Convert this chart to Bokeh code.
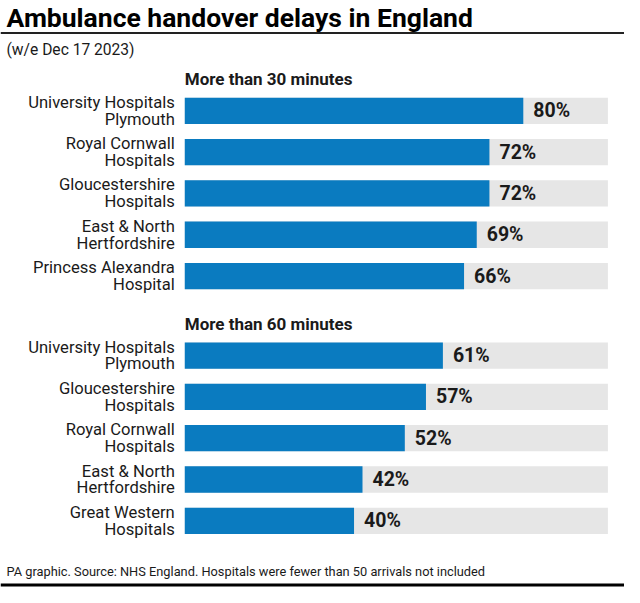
from bokeh.plotting import figure
from bokeh.models import Range1d, ColumnDataSource, Span, Label
from bokeh.core.properties import value
from bokeh.embed import file_html
from bokeh.resources import INLINE

# ---- data ----
title_text = "Ambulance handover delays in England"
subtitle_text = "(w/e Dec 17 2023)"
footer_text = "PA graphic. Source: NHS England. Hospitals were fewer than 50 arrivals not included"

group_titles = ["More than 30 minutes", "More than 60 minutes"]
hospitals_30 = ["University Hospitals\nPlymouth", "Royal Cornwall\nHospitals",
                "Gloucestershire\nHospitals", "East & North\nHertfordshire",
                "Princess Alexandra\nHospital"]
pct_30 = [80, 72, 72, 69, 66]
hospitals_60 = ["University Hospitals\nPlymouth", "Gloucestershire\nHospitals",
                "Royal Cornwall\nHospitals", "East & North\nHertfordshire",
                "Great Western\nHospitals"]
pct_60 = [61, 57, 52, 42, 40]

# ---- layout ----
W, H = 624, 587
SX = W / 640.0
X0 = 189 * SX                    # px position of 0 %
PX_PER_PCT = (623 - 189) * SX / 100.0
FONT = "Roboto"
BLUE = "#0A7BC0"
GREY = "#E6E6E6"
INK = "#1a1a1a"

p = figure(width=W, height=H, output_backend="svg", toolbar_location=None,
           x_range=Range1d(-X0 / PX_PER_PCT, (W - X0) / PX_PER_PCT),
           y_range=Range1d(603, 0), min_border=0)
p.axis.visible = False
p.grid.visible = False
p.outline_line_color = None
p.background_fill_color = "white"
p.border_fill_color = "white"

panels = [
    (group_titles[0], hospitals_30, pct_30, 113.3, 80.5),
    (group_titles[1], hospitals_60, pct_60, 364.7, 332.5),
]
PITCH = 42.45
BAR_H = 27
for gtitle, names, vals, first_y, head_y in panels:
    ys = [first_y + i * PITCH for i in range(len(vals))]
    src = ColumnDataSource(dict(
        y=ys, v=vals, full=[100] * len(vals),
        lab=[f"{v}%" for v in vals],
        l1=[n.split("\n")[0] for n in names],
        l2=[n.split("\n")[1] for n in names],
        y1=[y - 8.7 for y in ys], y2=[y + 8.7 for y in ys],
    ))
    p.hbar(y="y", left=0, right="full", height=BAR_H, source=src,
           fill_color=GREY, line_color=None)
    p.hbar(y="y", left=0, right="v", height=BAR_H, source=src,
           fill_color=BLUE, line_color=None)
    p.text(x="v", y="y", text="lab", source=src, x_offset=10,
           text_align="left", text_baseline="middle",
           text_font=value(FONT), text_font_style="bold",
           text_font_size="19.5px", text_color=INK)
    for col_y, col_t in (("y1", "l1"), ("y2", "l2")):
        p.text(x=0, y=col_y, text=col_t, source=src, x_offset=-10,
               text_align="right", text_baseline="middle",
               text_font=value(FONT), text_font_size="16.6px", text_color=INK)
    p.add_layout(Label(x=0, y=head_y, text=gtitle, text_baseline="middle",
                       text_font=FONT, text_font_style="bold",
                       text_font_size="17px", text_color=INK))

p.add_layout(Label(x=6, x_units="screen", y=17, text=title_text,
                   text_baseline="middle", text_font=FONT,
                   text_font_style="bold", text_font_size="26.5px",
                   text_color="black"))
p.add_layout(Span(location=33.5, dimension="width", line_color="#222222",
                  line_width=2))
p.add_layout(Label(x=6, x_units="screen", y=51, text=subtitle_text,
                   text_baseline="middle", text_font=FONT,
                   text_font_size="15.6px", text_color=INK))
p.add_layout(Label(x=6, x_units="screen", y=587, text=footer_text,
                   text_baseline="middle", text_font=FONT,
                   text_font_size="12.8px", text_color=INK))
p.add_layout(Span(location=600.5, dimension="width", line_color="black",
                  line_width=3))

open("out.html", "w").write(file_html(p, INLINE))
